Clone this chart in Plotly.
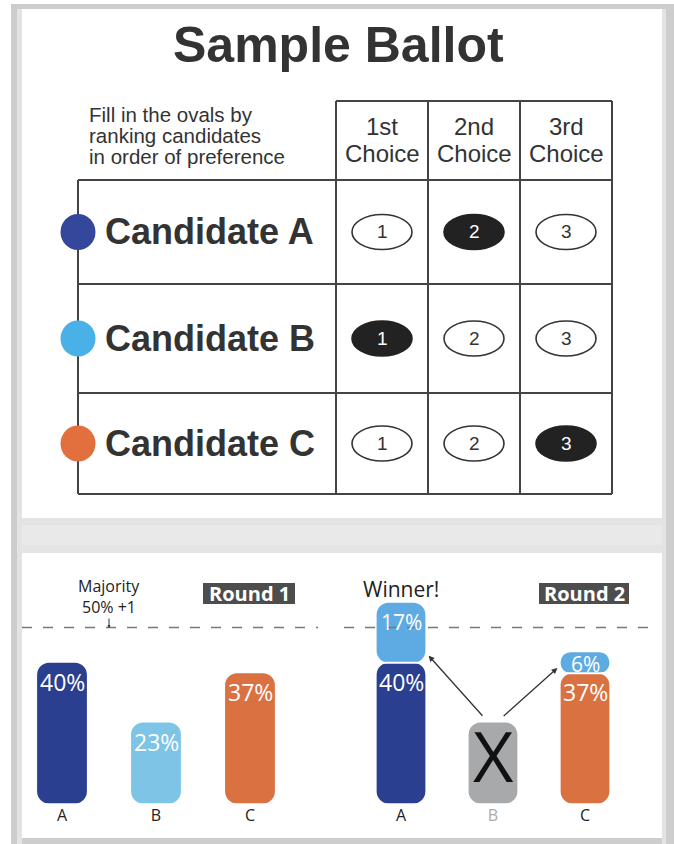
import plotly.graph_objects as go

W, H = 674, 844

# ---------------- data ----------------
title = "Sample Ballot"
instructions = ["Fill in the ovals by", "ranking candidates", "in order of preference"]
choice_top = ["1st", "2nd", "3rd"]
choice_bottom = ["Choice", "Choice", "Choice"]
candidates = ["Candidate A", "Candidate B", "Candidate C"]
ballot_marks = [2, 1, 3]          # filled oval (rank) for each candidate
ranks = [1, 2, 3]
cand_colors = ["#34479a", "#49b1e8", "#e2703f"]

bar_labels = ["A", "B", "C"]
round1 = [40, 23, 37]
round2_keep = [40, 23, 37]         # B is eliminated in round 2
round2_transfer = [17, 0, 6]       # B's votes moved to A and C
majority = 50

bar_colors = ["#2b3f90", "#7dc4e7", "#d97141"]
transfer_color = "#5eaae3"
eliminated_color = "#a8a9ab"

FONT_B = "Liberation Sans, Arial, sans-serif"
FONT_C = "Open Sans, sans-serif"


def X(px):
    return px / W


def Y(py):
    return 1 - py / H


fig = go.Figure()
shapes = []
ann = []


def text(t, x, y, size, color="#222222", family=FONT_C, xanchor="center"):
    ann.append(dict(text=t, x=X(x), y=Y(y), xref="paper", yref="paper", showarrow=False,
                    font=dict(family=family, size=size, color=color),
                    xanchor=xanchor, yanchor="middle"))


# ---------------- frame ----------------
def rect(x0, y0, x1, y1, fill, layer="below"):
    shapes.append(dict(type="rect", xref="paper", yref="paper", x0=X(x0), x1=X(x1), y0=Y(y1), y1=Y(y0),
                       fillcolor=fill, layer=layer, line=dict(width=0)))

rect(11, 4, 674, 844, "#cdcdcd")
rect(17, 9, 22, 844, "#e3e3e3")
rect(662, 9, 666, 844, "#e3e3e3")
rect(22, 9, 662, 518, "#ffffff")
rect(22, 518, 662, 553, "#e4e4e4")
rect(22, 525, 662, 545, "#e9e9e9")
rect(22, 553, 662, 838, "#ffffff")

# ---------------- ballot ----------------
text(f"<b>{title}</b>", 338, 45, 50, "#333333", FONT_B)
for i, line in enumerate(instructions):
    text(line, 87, 114.5 + 21 * i, 20.5, "#333333", FONT_B, xanchor="left")

col_edges = [336, 428, 520, 612]
row_edges = [180, 284, 393, 494]
header_top = 101
left_x = 78
LC = "#444444"
LW = 2


def seg(x0, y0, x1, y1):
    shapes.append(dict(type="line", xref="paper", yref="paper", x0=X(x0), x1=X(x1), y0=Y(y0), y1=Y(y1),
                       line=dict(color=LC, width=LW)))


seg(col_edges[0], header_top, col_edges[-1], header_top)
for y in row_edges:
    seg(left_x, y, col_edges[-1], y)
seg(left_x, row_edges[0], left_x, row_edges[-1])
for x in col_edges:
    seg(x, header_top, x, row_edges[-1])

for j in range(3):
    cx = (col_edges[j] + col_edges[j + 1]) / 2
    text(choice_top[j], cx, 126.5, 24, "#333333", FONT_B)
    text(choice_bottom[j], cx, 153.5, 24, "#333333", FONT_B)

for i, name in enumerate(candidates):
    cy = (row_edges[i] + row_edges[i + 1]) / 2
    shapes.append(dict(type="circle", xref="paper", yref="paper",
                       x0=X(left_x - 17.5), x1=X(left_x + 17.5), y0=Y(cy + 18), y1=Y(cy - 18),
                       fillcolor=cand_colors[i], line=dict(width=0)))
    text(f"<b>{name}</b>", 103, cy, 36, "#333333", FONT_B, xanchor="left")
    for j, r in enumerate(ranks):
        cx = (col_edges[j] + col_edges[j + 1]) / 2
        filled = ballot_marks[i] == r
        shapes.append(dict(type="circle", xref="paper", yref="paper",
                           x0=X(cx - 30), x1=X(cx + 30), y0=Y(cy + 17.5), y1=Y(cy - 17.5),
                           fillcolor="#222222" if filled else "#ffffff",
                           line=dict(color="#222222" if filled else "#333333", width=1.6)))
        text(str(r), cx, cy, 19, "#ffffff" if filled else "#333333", FONT_B)

# ---------------- bars ----------------
BW = 0.53
RAD = 12


def bars(xa, ya, xs, bases, lengths, colors):
    keep = [(x, b, l, c) for x, b, l, c in zip(xs, bases, lengths, colors) if l > 0]
    fig.add_trace(go.Bar(x=[k[0] for k in keep], y=[k[2] for k in keep], base=[k[1] for k in keep],
                         width=BW, marker=dict(color=[k[3] for k in keep], cornerradius=RAD, line=dict(width=0)),
                         xaxis=xa, yaxis=ya, hoverinfo="skip", showlegend=False))


xi = list(range(len(bar_labels)))

bars("x", "y", xi, [0] * 3, round1, bar_colors)
r2_colors = [bar_colors[0], eliminated_color, bar_colors[2]]
bars("x2", "y2", xi, [0] * 3, round2_keep, r2_colors)
bars("x2", "y2", xi, round2_keep, round2_transfer, [transfer_color] * 3)

PPU = 211.2 / 60  # pixels per percentage point


def pct_label(xa, ya, x, top, length, size=23):
    shift = -min(19, PPU * length / 2 + 1)
    ann.append(dict(text=f"{length}%", x=x, y=top, xref=xa, yref=ya, showarrow=False,
                    font=dict(family=FONT_C, size=size, color="#ffffff"),
                    xanchor="center", yanchor="middle", yshift=shift))


for i, v in enumerate(round1):
    pct_label("x", "y", i, v, v)
for i in xi:
    if round2_transfer[i] > 0:
        pct_label("x2", "y2", i, round2_keep[i], round2_keep[i])
        pct_label("x2", "y2", i, round2_keep[i] + round2_transfer[i], round2_transfer[i], size=21)
        shapes.append(dict(type="line", xref="x2", yref="y2", x0=i - 0.3, x1=i + 0.3,
                           y0=round2_keep[i], y1=round2_keep[i], line=dict(color="#ffffff", width=2)))

elim = 1
ann.append(dict(text="X", x=elim, y=round2_keep[elim] / 2, xref="x2", yref="y2", showarrow=False,
                font=dict(family=FONT_C, size=70, color="#111111"), xanchor="center", yanchor="middle",
                yshift=8))

for i in xi:
    if round2_transfer[i] > 0:
        side = -1 if i < elim else 1
        ann.append(dict(text="", x=i - side * 0.3, y=round2_keep[i] + (2 if i < elim else 1.5),
                        xref="x2", yref="y2", axref="x2", ayref="y2",
                        ax=elim + side * 0.1, ay=round2_keep[elim] + 1.5,
                        showarrow=True, arrowhead=2, arrowsize=0.9, arrowwidth=1.3, arrowcolor="#333333"))

for ya, x0, x1 in (("y", 22, 318), ("y2", 344, 650)):
    shapes.append(dict(type="line", xref="paper", yref=ya, x0=X(x0), x1=X(x1), y0=majority, y1=majority,
                       line=dict(color="#777777", width=1.3, dash="10px,11px")))

text("Majority", 109, 585.5, 16)
text(f"{majority}% +1", 109, 606.5, 16)
ann.append(dict(text="", x=X(109), y=Y(628), xref="paper", yref="paper", ax=0, ay=-11,
                showarrow=True, arrowhead=2, arrowsize=0.6, arrowwidth=1, arrowcolor="#333333"))

for label, x0, x1 in (("Round 1", 203, 295), ("Round 2", 539, 629)):
    rect(x0, 583, x1, 604, "#4d4d4d", layer="above")
    text(f"<b>{label}</b>", (x0 + x1) / 2, 593.5, 20, "#ffffff")

text("Winner!", 401, 589, 21)

# ---------------- layout ----------------
ydom = [Y(803.5), Y(592.3)]
common_x = dict(range=[-0.5, 2.5], tickvals=xi, showgrid=False, zeroline=False, showline=False,
                ticks="", tickfont=dict(family=FONT_C, size=16, color="#222222"), fixedrange=True)
common_y = dict(range=[0, 60], domain=ydom, visible=False, fixedrange=True)

fig.update_layout(
    width=W, height=H, margin=dict(l=0, r=0, t=0, b=0),
    paper_bgcolor="#ffffff", plot_bgcolor="rgba(0,0,0,0)",
    barmode="overlay", showlegend=False,
    xaxis=dict(domain=[X(15), X(297)], ticktext=bar_labels, anchor="y", **common_x),
    yaxis=dict(anchor="x", **common_y),
    xaxis2=dict(domain=[X(355), X(631)], anchor="y2",
                ticktext=[bar_labels[0], f"<span style='color:#aaaaaa'>{bar_labels[1]}</span>", bar_labels[2]],
                **common_x),
    yaxis2=dict(anchor="x2", **common_y),
    shapes=shapes, annotations=ann,
)

fig.write_html("out.html", config={"displayModeBar": False},
               post_script="document.body.style.margin='0';document.body.style.overflow='hidden';")
